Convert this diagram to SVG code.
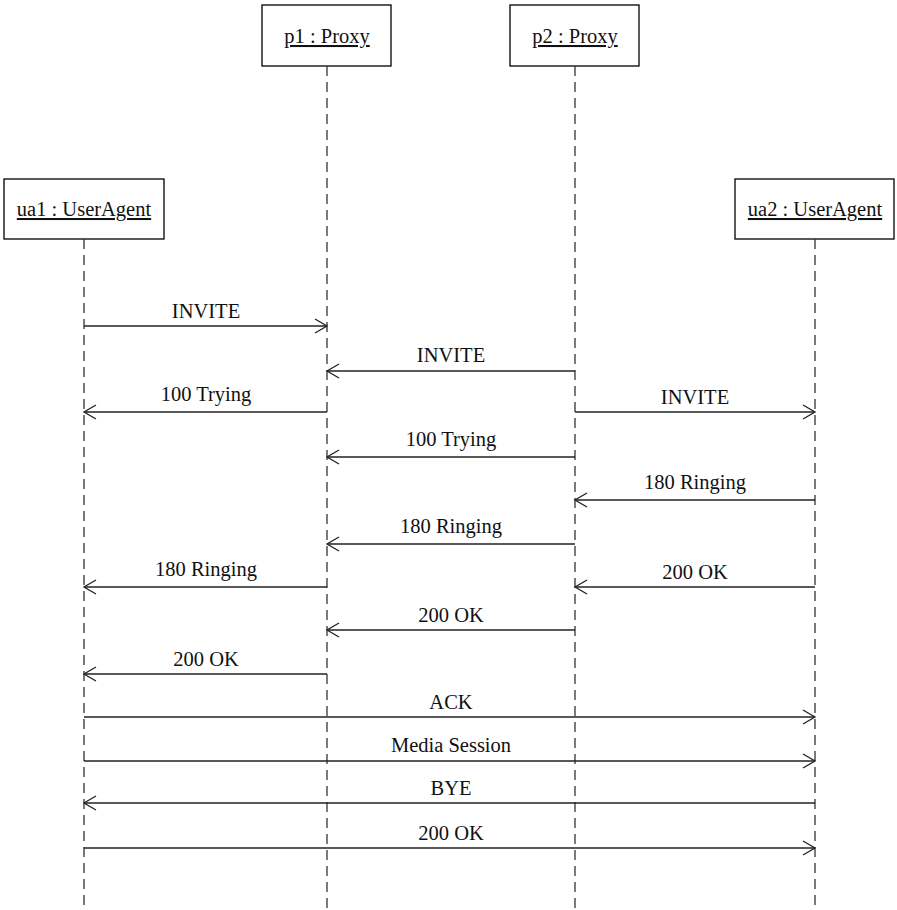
<svg xmlns="http://www.w3.org/2000/svg" width="897" height="910" viewBox="0 0 897 910">
<style>
.box{fill:#fff;stroke:#000;stroke-width:1.3}
.life{stroke:#333;stroke-width:1.3;stroke-dasharray:10,6;fill:none}
.msg{stroke:#222;stroke-width:1.3;fill:none}
text{font-family:"Liberation Serif","DejaVu Serif",serif;font-size:20.5px;fill:#111;text-anchor:middle}
.name{text-decoration:underline}
</style>
<defs>
<marker id="arr" markerWidth="16" markerHeight="16" refX="13" refY="8" orient="auto" markerUnits="userSpaceOnUse">
<path d="M1,1 L13,8 L1,15" fill="none" stroke="#222" stroke-width="1.3"/>
</marker>
</defs>
<rect width="897" height="910" fill="#fff"/>
<g id="ua1">
<rect class="box" x="4" y="179" width="160" height="60"/>
<text class="name" x="84" y="216">ua1 : UserAgent</text>
<line class="life" x1="84" y1="239" x2="84" y2="908"/>
</g>
<g id="p1">
<rect class="box" x="262" y="5" width="129" height="61"/>
<text class="name" x="327" y="43">p1 : Proxy</text>
<line class="life" x1="327" y1="66" x2="327" y2="908"/>
</g>
<g id="p2">
<rect class="box" x="510" y="5" width="129" height="61"/>
<text class="name" x="575" y="43">p2 : Proxy</text>
<line class="life" x1="575" y1="66" x2="575" y2="908"/>
</g>
<g id="ua2">
<rect class="box" x="735" y="179" width="159" height="60"/>
<text class="name" x="815" y="216">ua2 : UserAgent</text>
<line class="life" x1="815" y1="239" x2="815" y2="908"/>
</g>
<g id="connectors">
<line class="msg" x1="84" y1="326" x2="327" y2="326" marker-end="url(#arr)"/>
<text x="206" y="318">INVITE</text>
<line class="msg" x1="575" y1="371" x2="327" y2="371" marker-end="url(#arr)"/>
<text x="451" y="362">INVITE</text>
<line class="msg" x1="327" y1="412" x2="84" y2="412" marker-end="url(#arr)"/>
<text x="206" y="401">100 Trying</text>
<line class="msg" x1="575" y1="412" x2="815" y2="412" marker-end="url(#arr)"/>
<text x="695" y="404">INVITE</text>
<line class="msg" x1="575" y1="457" x2="327" y2="457" marker-end="url(#arr)"/>
<text x="451" y="446">100 Trying</text>
<line class="msg" x1="815" y1="500" x2="575" y2="500" marker-end="url(#arr)"/>
<text x="695" y="489">180 Ringing</text>
<line class="msg" x1="575" y1="544" x2="327" y2="544" marker-end="url(#arr)"/>
<text x="451" y="533">180 Ringing</text>
<line class="msg" x1="327" y1="587" x2="84" y2="587" marker-end="url(#arr)"/>
<text x="206" y="576">180 Ringing</text>
<line class="msg" x1="815" y1="587" x2="575" y2="587" marker-end="url(#arr)"/>
<text x="695" y="579">200 OK</text>
<line class="msg" x1="575" y1="630" x2="327" y2="630" marker-end="url(#arr)"/>
<text x="451" y="622">200 OK</text>
<line class="msg" x1="327" y1="674" x2="84" y2="674" marker-end="url(#arr)"/>
<text x="206" y="666">200 OK</text>
<line class="msg" x1="84" y1="717" x2="815" y2="717" marker-end="url(#arr)"/>
<text x="451" y="709">ACK</text>
<line class="msg" x1="84" y1="761" x2="815" y2="761" marker-end="url(#arr)"/>
<text x="451" y="752">Media Session</text>
<line class="msg" x1="815" y1="803" x2="84" y2="803" marker-end="url(#arr)"/>
<text x="451" y="795">BYE</text>
<line class="msg" x1="84" y1="848" x2="815" y2="848" marker-end="url(#arr)"/>
<text x="451" y="840">200 OK</text>
</g>
</svg>
